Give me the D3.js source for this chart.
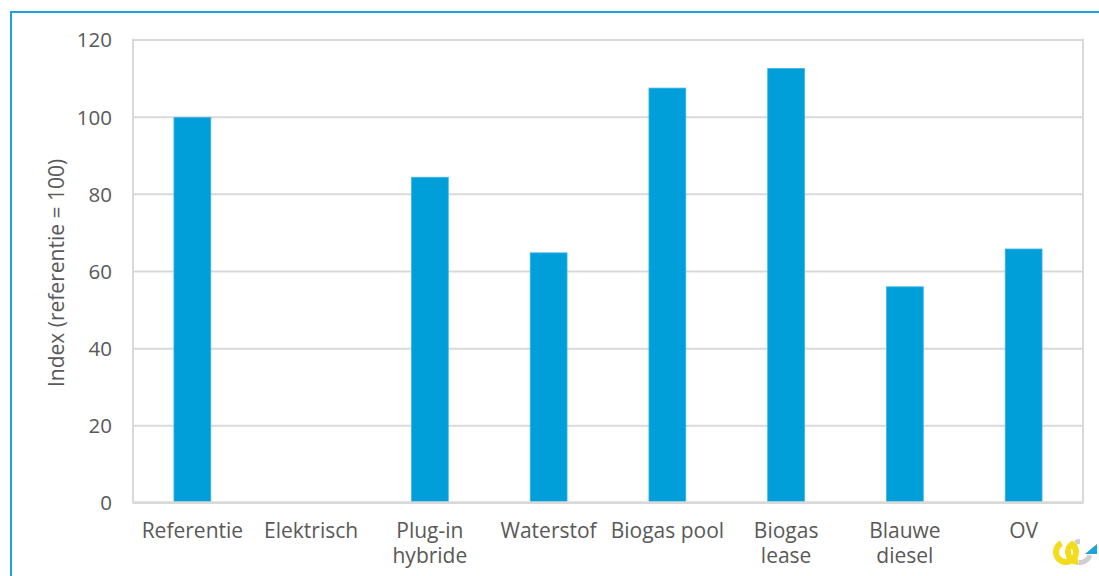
<!DOCTYPE html>
<html><head><meta charset="utf-8">
<script src="https://cdn.jsdelivr.net/npm/d3@7"></script>
<style>
html,body{margin:0;padding:0;background:#fff;}
svg{display:block;font-family:"Open Sans",sans-serif;}
</style></head>
<body>
<svg id="c" width="1099" height="576"></svg>
<script>
const categories = ["Referentie","Elektrisch","Plug-in hybride","Waterstof","Biogas pool","Biogas lease","Blauwe diesel","OV"];
const categoryLines = [["Referentie"],["Elektrisch"],["Plug-in","hybride"],["Waterstof"],["Biogas pool"],["Biogas","lease"],["Blauwe","diesel"],["OV"]];
const values = [99.8, 0, 84.3, 64.7, 107.4, 112.5, 55.9, 65.7];
const yTicks = [0, 20, 40, 60, 80, 100, 120];
const yLabel = "Index (referentie = 100)";

const svg = d3.select("#c");
const m = {left:133, right:1083, top:39.5, bottom:502.5};
const x = d3.scaleBand().domain(categories).range([m.left, m.right]).paddingInner(0.69).paddingOuter(0.345);
const y = d3.scaleLinear().domain([0,120]).range([m.bottom, m.top]);

// outer frame
svg.append("path").attr("d","M11,576 V12 H1099").attr("fill","none").attr("stroke","#1aa3dc").attr("stroke-width",2);

// gridlines
const grid = svg.append("g").call(d3.axisLeft(y).tickValues(yTicks).tickSize(-(m.right-m.left)).tickFormat(""))
  .attr("transform",`translate(${m.left},0)`);
grid.select(".domain").remove();
grid.selectAll("line").attr("stroke","#d9d9d9").attr("stroke-width",2);

// plot side borders
svg.append("line").attr("x1",m.left).attr("x2",m.left).attr("y1",m.top-1).attr("y2",m.bottom+1).attr("stroke","#d9d9d9").attr("stroke-width",2);
svg.append("line").attr("x1",m.right).attr("x2",m.right).attr("y1",m.top-1).attr("y2",m.bottom+1).attr("stroke","#d9d9d9").attr("stroke-width",2);

// y tick labels
const ya = svg.append("g").attr("transform",`translate(${m.left-21},0)`)
  .call(d3.axisLeft(y).tickValues(yTicks).tickSize(0).tickPadding(0));
ya.select(".domain").remove();
ya.selectAll("text").attr("font-size",20.5).attr("fill","#595959").attr("font-family","Open Sans").attr("dy","0.36em");

// bars
svg.append("g").selectAll("rect").data(values).join("rect")
  .attr("x",(d,i)=>x(categories[i]))
  .attr("width",x.bandwidth())
  .attr("y",d=>y(d))
  .attr("height",d=>y(0)-y(d))
  .attr("fill","#009fd9")
  .attr("stroke",d=>d>0?"#3db3e3":"none").attr("stroke-width",0.8);

// x axis line
svg.append("line").attr("x1",m.left).attr("x2",m.right).attr("y1",y(0)).attr("y2",y(0)).attr("stroke","#d9d9d9").attr("stroke-width",2.5);

// category labels
const xl = svg.append("g").selectAll("text").data(categoryLines).join("text")
  .attr("x",(d,i)=>x(categories[i])+x.bandwidth()/2)
  .attr("y",538).attr("text-anchor","middle").attr("font-size",21).attr("fill","#595959");
xl.selectAll("tspan").data(d=>d).join("tspan")
  .attr("x",function(){return d3.select(this.parentNode).attr("x");})
  .attr("dy",(d,i)=>i===0?0:25).text(d=>d);

// y label
svg.append("text").attr("transform",`translate(64,${(m.top+m.bottom)/2+2}) rotate(-90)`)
  .attr("text-anchor","middle").attr("font-size",21).attr("fill","#595959").text(yLabel);

// logo (decorative)
const lg = svg.append("g").attr("transform","translate(1066,552)");
const arc = d3.arc();
lg.append("path").attr("d",arc({innerRadius:7,outerRadius:13,startAngle:Math.PI*0.15,endAngle:Math.PI*1.85})).attr("fill","#f2dc1c");
lg.append("path").attr("transform","translate(12,0)").attr("d",arc({innerRadius:7,outerRadius:13,startAngle:Math.PI*1.0,endAngle:Math.PI*1.85})).attr("fill","#f2dc1c");
lg.append("path").attr("transform","translate(14,0)").attr("d",arc({innerRadius:8,outerRadius:13,startAngle:Math.PI*0.6,endAngle:Math.PI*1.05})).attr("fill","#cfcfcf");
lg.append("path").attr("transform","translate(14,0)").attr("d",arc({innerRadius:8,outerRadius:13,startAngle:Math.PI*1.85,endAngle:Math.PI*2.0})).attr("fill","#cfcfcf");
lg.append("path").attr("d","M19,2 L31,-8 L31,2 Z").attr("fill","#1aa3dc");
</script>
</body></html>
